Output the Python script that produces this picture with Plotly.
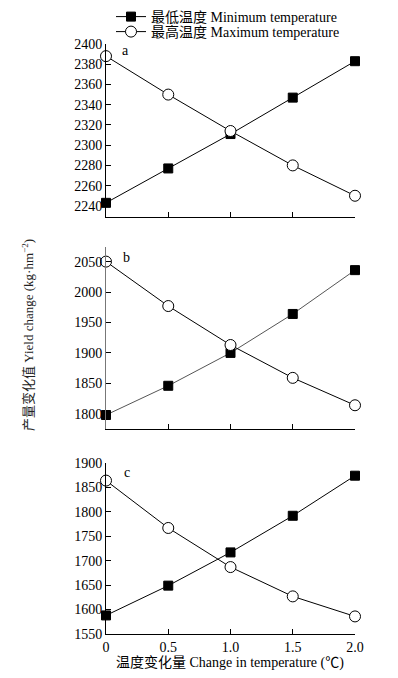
import plotly.graph_objects as go

x_vals = [0, 0.5, 1.0, 1.5, 2.0]
x_ticks = [0, 0.5, 1.0, 1.5, 2.0]
x_ticklabels = ["0", "0.5", "1.0", "1.5", "2.0"]

a_min = [2243, 2277, 2311, 2347, 2383]
a_max = [2388, 2350, 2314, 2280, 2250]
b_min = [1798, 1846, 1900, 1964, 2036]
b_max = [2050, 1977, 1913, 1859, 1814]
c_min = [1588, 1649, 1717, 1792, 1874]
c_max = [1864, 1767, 1687, 1627, 1586]

a_ticks = [2240, 2260, 2280, 2300, 2320, 2340, 2360, 2380, 2400]
b_ticks = [1800, 1850, 1900, 1950, 2000, 2050]
c_ticks = [1550, 1600, 1650, 1700, 1750, 1800, 1850, 1900]

name_min = "最低温度 Minimum temperature"
name_max = "最高温度 Maximum temperature"
panel_labels = ["a", "b", "c"]

FONT = "Liberation Serif, Times New Roman, Noto Sans CJK SC, serif"
W, H = 398, 678

def py(px):
    return 1 - px / H

fig = go.Figure()
panels = [
    (a_min, a_max, "x", "y", True, "black"),
    (b_min, b_max, "x2", "y2", False, "#555"),
    (c_min, c_max, "x3", "y3", False, "black"),
]
for mn, mx, xa, ya, leg, mincol in panels:
    fig.add_trace(go.Scatter(
        x=x_vals, y=mn, mode="lines+markers", name=name_min, xaxis=xa, yaxis=ya,
        line=dict(color=mincol, width=1),
        marker=dict(symbol="square", size=9, color="black", line=dict(color="black", width=1)),
        cliponaxis=False, showlegend=leg, legend="legend"))
    fig.add_trace(go.Scatter(
        x=x_vals, y=mx, mode="lines+markers", name=name_max, xaxis=xa, yaxis=ya,
        line=dict(color="black", width=1),
        marker=dict(symbol="circle", size=11, color="white", line=dict(color="black", width=1)),
        cliponaxis=False, showlegend=leg, legend="legend2"))

xdom = [106 / W, 355 / W]
ydoms = [[py(217), py(44)], [py(429), py(247)], [py(634), py(463)]]
ranges = [[2229, 2400], [1775, 2074], [1550, 1900]]
yticks = [a_ticks, b_ticks, c_ticks]

common_axis = dict(showgrid=False, zeroline=False, showline=True, linecolor="black",
                   linewidth=1, ticks="inside", ticklen=5, tickcolor="black",
                   tickfont=dict(family=FONT, size=14, color="black"))
layout = {}
for i in range(3):
    sfx = "" if i == 0 else str(i + 1)
    layout["xaxis" + sfx] = dict(common_axis, domain=xdom, range=[0, 2],
                                 tickvals=x_ticks, ticktext=x_ticklabels,
                                 showticklabels=(i == 2),
                                 anchor="y" + sfx)
    layout["yaxis" + sfx] = dict(common_axis, domain=ydoms[i], range=ranges[i],
                                 tickvals=yticks[i], anchor="x" + sfx)
layout["yaxis2"]["linecolor"] = "#777"
layout["xaxis3"]["ticklabelstandoff"] = 0

annotations = []
label_pos = [(125, 50), (126, 257), (127, 472)]
for lab, (lx, ly) in zip(panel_labels, label_pos):
    annotations.append(dict(x=lx / W, y=py(ly), xref="paper", yref="paper", text=lab,
                            showarrow=False, font=dict(family=FONT, size=14, color="black"),
                            xanchor="center", yanchor="middle"))
annotations.append(dict(x=28 / W, y=py(335), xref="paper", yref="paper",
                        text="产量变化值 Yield change (kg·hm<sup>−2</sup>)",
                        showarrow=False, textangle=-90,
                        font=dict(family=FONT, size=13, color="#222"),
                        xanchor="center", yanchor="middle"))
annotations.append(dict(x=230 / W, y=py(663), xref="paper", yref="paper",
                        text="温度变化量 Change in temperature (℃)",
                        showarrow=False, font=dict(family=FONT, size=14, color="black"),
                        xanchor="center", yanchor="middle"))

leg_common = dict(xanchor="left", yanchor="middle", bgcolor="rgba(0,0,0,0)",
                  itemwidth=30, font=dict(family=FONT, size=14, color="black"))
fig.update_layout(
    width=W, height=H, margin=dict(l=0, r=0, t=0, b=0, autoexpand=False),
    paper_bgcolor="white", plot_bgcolor="white",
    font=dict(family=FONT, size=14, color="black"),
    legend=dict(leg_common, x=111 / W, y=py(17)),
    legend2=dict(leg_common, x=111 / W, y=py(32)),
    annotations=annotations,
    **layout,
)
fig.write_html("out.html", config={"displayModeBar": False},
               post_script="document.body.style.margin='0';document.body.style.overflow='hidden';")
